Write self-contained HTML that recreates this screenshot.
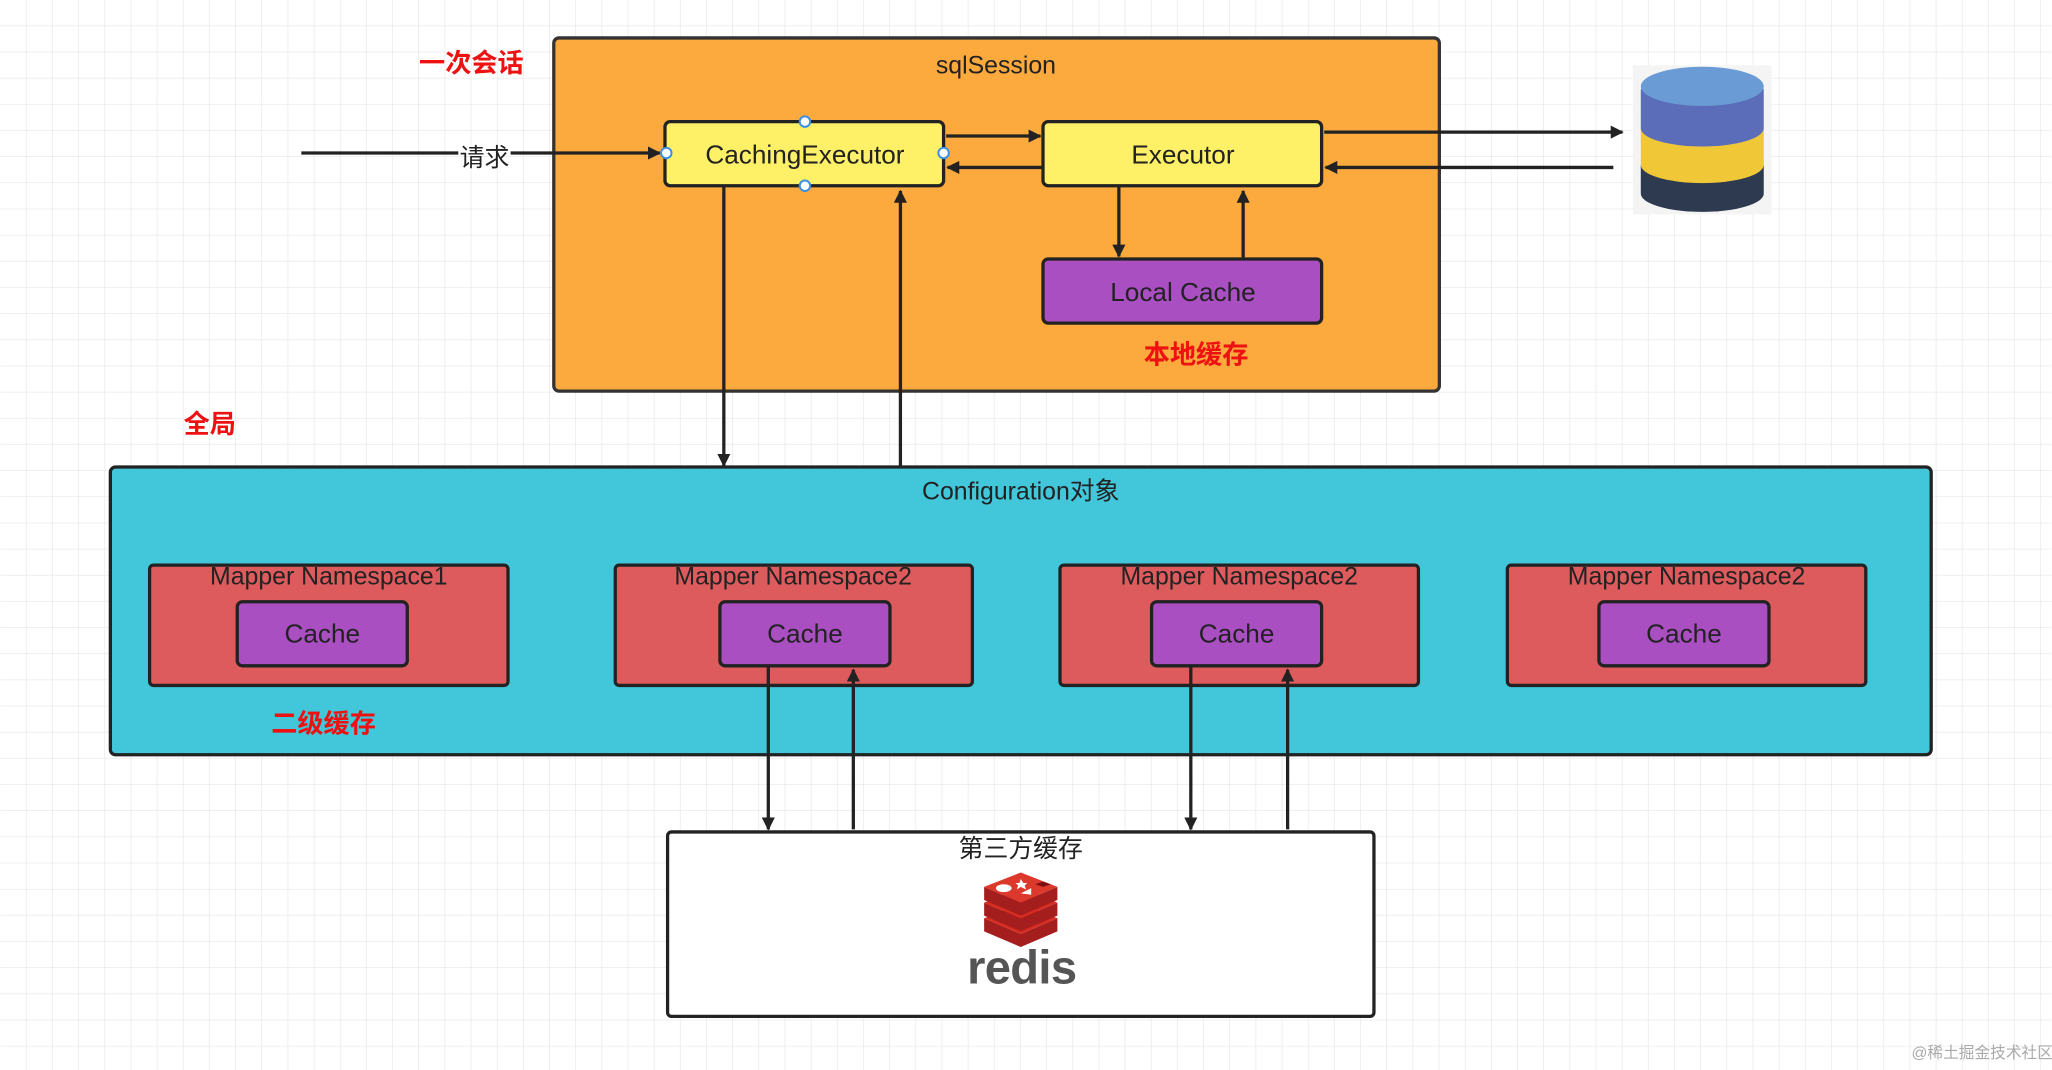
<!DOCTYPE html>
<html><head><meta charset="utf-8"><style>html,body{margin:0;padding:0;background:#fff}svg{display:block}text{font-family:"Liberation Sans","Noto Sans CJK SC",sans-serif}</style></head>
<body>
<svg width="2052" height="1070" viewBox="0 0 1568 818" xmlns="http://www.w3.org/2000/svg">
<defs>
<pattern id="g" width="20" height="20" patternUnits="userSpaceOnUse"><path d="M20 0V20M0 20H20" stroke="#e6e6e6" stroke-width="1" fill="none"/></pattern>
<marker id="a" markerWidth="10" markerHeight="10" refX="9" refY="5" orient="auto" markerUnits="userSpaceOnUse"><path d="M0 0L10 5L0 10z" fill="#222"/></marker>
</defs>
<rect width="1568" height="818" fill="#fff"/>
<rect width="1568" height="818" fill="url(#g)"/>
<g font-size="20" fill="#222" text-anchor="middle">
<rect x="423" y="29" width="677" height="270" rx="4" fill="#fca93e" stroke="#333" stroke-width="2.5"/>
<text x="761" y="56" font-size="19">sqlSession</text>
<text x="360" y="55" fill="#e11" font-weight="bold">一次会话</text>
<rect x="508" y="93" width="213" height="49" rx="4" fill="#fef067" stroke="#222" stroke-width="2.5"/>
<text x="615" y="125">CachingExecutor</text>
<rect x="797" y="93" width="213" height="49" rx="4" fill="#fef067" stroke="#222" stroke-width="2.5"/>
<text x="904" y="125">Executor</text>
<rect x="797" y="198" width="213" height="49" rx="4" fill="#a94fc2" stroke="#222" stroke-width="2.5"/>
<text x="904" y="230">Local Cache</text>
<text x="914" y="278" fill="#e11" font-weight="bold">本地缓存</text>
<text x="160" y="331" fill="#e11" font-weight="bold">全局</text>
<rect x="84" y="357" width="1392" height="220" rx="4" fill="#42c6da" stroke="#222" stroke-width="2.5"/>
<text x="780" y="382" font-size="19">Configuration对象</text>
<g stroke="#222" stroke-width="2.5">
<rect x="114" y="432" width="274" height="92" rx="3" fill="#de5b5d"/>
<rect x="470" y="432" width="273" height="92" rx="3" fill="#de5b5d"/>
<rect x="810" y="432" width="274" height="92" rx="3" fill="#de5b5d"/>
<rect x="1152" y="432" width="274" height="92" rx="3" fill="#de5b5d"/>
<rect x="181" y="460" width="130" height="49" rx="4" fill="#a94fc2"/>
<rect x="550" y="460" width="130" height="49" rx="4" fill="#a94fc2"/>
<rect x="880" y="460" width="130" height="49" rx="4" fill="#a94fc2"/>
<rect x="1222" y="460" width="130" height="49" rx="4" fill="#a94fc2"/>
</g>
<text x="251" y="447" font-size="19">Mapper Namespace1</text>
<text x="606" y="447" font-size="19">Mapper Namespace2</text>
<text x="947" y="447" font-size="19">Mapper Namespace2</text>
<text x="1289" y="447" font-size="19">Mapper Namespace2</text>
<text x="246" y="491">Cache</text>
<text x="615" y="491">Cache</text>
<text x="945" y="491">Cache</text>
<text x="1287" y="491">Cache</text>
<text x="247" y="560" fill="#e11" font-weight="bold">二级缓存</text>
<rect x="510" y="636" width="540" height="141" rx="3" fill="#fff" stroke="#222" stroke-width="2.5"/>
<text x="780" y="655" font-size="19">第三方缓存</text>
<g stroke="#222" stroke-width="2.5" fill="none" marker-end="url(#a)">
<path d="M230 117H350M390 117H504"/>
<path d="M723 104H795"/><path d="M797 128H724"/>
<path d="M1012 101H1240"/><path d="M1233 128H1013"/>
<path d="M855 142V196"/><path d="M950 198V146"/>
<path d="M553 142V356"/><path d="M688 357V146"/>
<path d="M587 510V634"/><path d="M652 634V512"/>
<path d="M910 510V634"/><path d="M984 634V512"/>
</g>
<circle cx="615" cy="93" r="4" fill="#fff" stroke="#3a8ee6" stroke-width="1.5"/>
<circle cx="615" cy="142" r="4" fill="#fff" stroke="#3a8ee6" stroke-width="1.5"/>
<circle cx="509" cy="117" r="4" fill="#fff" stroke="#3a8ee6" stroke-width="1.5"/>
<circle cx="721" cy="117" r="4" fill="#fff" stroke="#3a8ee6" stroke-width="1.5"/>
<text x="370" y="127" font-size="19">请求</text>
<g>
<path d="M752 702l28 12 28-12v10l-28 12-28-12z" fill="#a41e1e"/>
<path d="M752 702l28-11 28 11-28 12z" fill="#d82c20"/>
<path d="M752 690l28 12 28-12v10l-28 12-28-12z" fill="#a41e1e"/>
<path d="M752 690l28-11 28 11-28 12z" fill="#d82c20"/>
<path d="M752 678l28 12 28-12v10l-28 12-28-12z" fill="#a41e1e"/>
<path d="M752 678l28-11 28 11-28 12z" fill="#dc382c"/>
<ellipse cx="767" cy="679" rx="6" ry="3" fill="#fff"/>
<path d="M780 683l8-4 0 5z" fill="#fff"/>
<path d="M780 672l2 3 3 0-2 2 1 3-4-2-3 2 1-3-2-2 3 0z" fill="#fff"/>
<path d="M791 676l6-2 6 2-6 2z" fill="#7a1010"/>
</g>
<text x="781" y="752" font-size="36" fill="#555" style="font-weight:bold" textLength="84">redis</text>
<rect x="1248" y="50" width="106" height="114" fill="#f4f4f4"/>
<path d="M1254 126v22a47 14 0 0 0 94 0v-22z" fill="#2e3a4f"/>
<path d="M1254 98v28a47 14 0 0 0 94 0v-28z" fill="#efc737"/>
<path d="M1254 68v30a47 14 0 0 0 94 0v-30z" fill="#5b6cb8"/>
<ellipse cx="1301" cy="66" rx="47" ry="15" fill="#6a9bd4"/>
<text x="1515" y="809" font-size="12" fill="#aaa">@稀土掘金技术社区</text>
</g>
</svg>
</body></html>
